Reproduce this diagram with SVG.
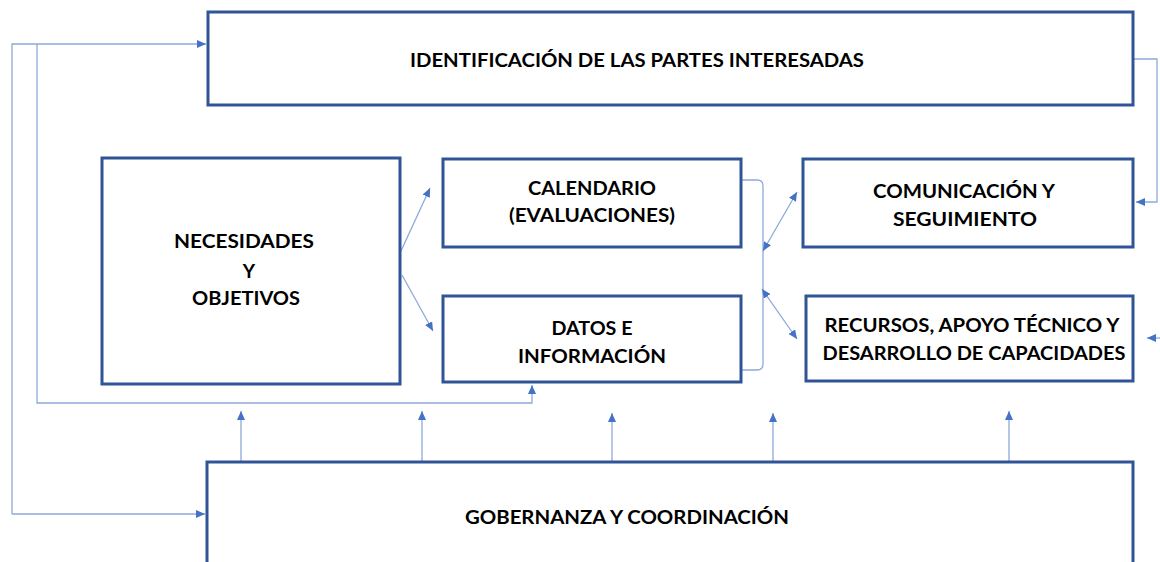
<svg xmlns="http://www.w3.org/2000/svg" width="1160" height="562" viewBox="0 0 1160 562">
<style>
.box{fill:#fff;stroke:#2F5597;stroke-width:3}
.t{font-family:Lato,"Liberation Sans",sans-serif;font-weight:bold;font-size:19px;fill:#000;text-anchor:middle}
.c{fill:none;stroke:#8EA9DB;stroke-width:1.3}
</style>
<defs>
<marker id="ah" markerUnits="userSpaceOnUse" markerWidth="10" markerHeight="8" refX="9" refY="4" orient="auto-start-reverse">
<path d="M0,0 L9,4 L0,8 Z" fill="#4472C4"/>
</marker>
</defs>
<rect width="1160" height="562" fill="#fff"/>
<g id="connectors">
<polyline class="c" points="12,514 12,44 206,44" marker-end="url(#ah)"/>
<polyline class="c" points="12,514 205,514" marker-end="url(#ah)"/>
<polyline class="c" points="37,44 37,403 532,403 532,385" marker-end="url(#ah)"/>
<polyline class="c" points="1133,59 1157,59 1157,202 1136,202" marker-end="url(#ah)"/>
<line class="c" x1="1162" y1="338" x2="1147" y2="338" marker-end="url(#ah)"/>
<line class="c" x1="401" y1="251" x2="430" y2="188" marker-end="url(#ah)"/>
<line class="c" x1="402" y1="275" x2="433" y2="331" marker-end="url(#ah)"/>
<path class="c" d="M742,180 H757 Q763,180 763,186 V364 Q763,370 757,370 H742"/>
<line class="c" x1="763" y1="251" x2="797" y2="192" marker-start="url(#ah)" marker-end="url(#ah)"/>
<line class="c" x1="762" y1="289" x2="797" y2="339" marker-start="url(#ah)" marker-end="url(#ah)"/>
<line class="c" x1="241" y1="461" x2="241" y2="411" marker-end="url(#ah)"/>
<line class="c" x1="422" y1="461" x2="422" y2="411" marker-end="url(#ah)"/>
<line class="c" x1="612" y1="461" x2="612" y2="413" marker-end="url(#ah)"/>
<line class="c" x1="773" y1="461" x2="773" y2="413" marker-end="url(#ah)"/>
<line class="c" x1="1009" y1="461" x2="1009" y2="411" marker-end="url(#ah)"/>
</g>
<g id="identificacion">
<rect class="box" x="208" y="12" width="925" height="93"/>
<text class="t" x="637" y="67" textLength="454" lengthAdjust="spacingAndGlyphs">IDENTIFICACIÓN DE LAS PARTES INTERESADAS</text>
</g>
<g id="necesidades">
<rect class="box" x="102" y="158" width="298" height="226"/>
<text class="t" x="244" y="248" textLength="140" lengthAdjust="spacingAndGlyphs">NECESIDADES</text>
<text class="t" x="249" y="278">Y</text>
<text class="t" x="246" y="305" textLength="108" lengthAdjust="spacingAndGlyphs">OBJETIVOS</text>
</g>
<g id="calendario">
<rect class="box" x="443" y="159" width="298" height="88"/>
<text class="t" x="592" y="195" textLength="128" lengthAdjust="spacingAndGlyphs">CALENDARIO</text>
<text class="t" x="592" y="222" textLength="166" lengthAdjust="spacingAndGlyphs">(EVALUACIONES)</text>
</g>
<g id="datos">
<rect class="box" x="443" y="296" width="298" height="86"/>
<text class="t" x="592" y="335" textLength="81" lengthAdjust="spacingAndGlyphs">DATOS E</text>
<text class="t" x="592" y="363" textLength="148" lengthAdjust="spacingAndGlyphs">INFORMACIÓN</text>
</g>
<g id="comunicacion">
<rect class="box" x="803" y="159" width="330" height="88"/>
<text class="t" x="964" y="198" textLength="182" lengthAdjust="spacingAndGlyphs">COMUNICACIÓN Y</text>
<text class="t" x="965" y="226" textLength="144" lengthAdjust="spacingAndGlyphs">SEGUIMIENTO</text>
</g>
<g id="recursos">
<rect class="box" x="806" y="296" width="327" height="85"/>
<text class="t" x="972" y="332" textLength="295" lengthAdjust="spacingAndGlyphs">RECURSOS, APOYO TÉCNICO Y</text>
<text class="t" x="974" y="360" textLength="303" lengthAdjust="spacingAndGlyphs">DESARROLLO DE CAPACIDADES</text>
</g>
<g id="gobernanza">
<rect class="box" x="207" y="462" width="926" height="120"/>
<text class="t" x="627" y="524" textLength="324" lengthAdjust="spacingAndGlyphs">GOBERNANZA Y COORDINACIÓN</text>
</g>
</svg>
